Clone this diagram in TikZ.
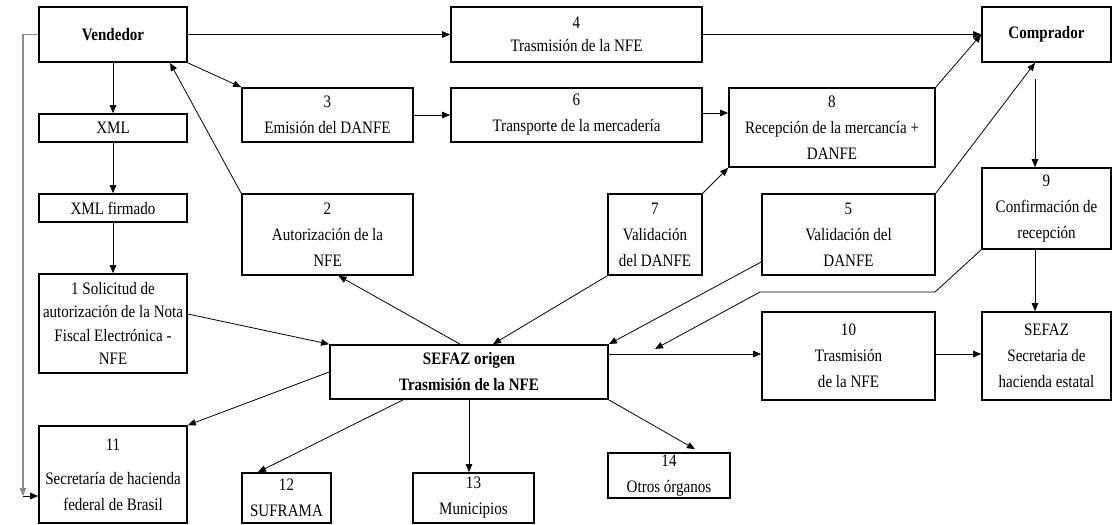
\documentclass[tikz,border=0pt]{standalone}
\usepackage{fontspec}
\setmainfont{Liberation Serif}[FakeStretch=0.86]
\usetikzlibrary{arrows.meta}
\begin{document}
\begin{tikzpicture}[x=1pt,y=-1pt,
  every node/.style={font=\fontsize{17.5}{26}\selectfont},
  box/.style={draw, line width=1.7pt, align=center, inner sep=0pt},
  arr/.style={line width=0.8pt, -{Triangle[length=8pt,width=6.5pt]}},
  link/.style={line width=0.8pt},
  feed/.style={line width=1.2pt, draw=black!45}]
\useasboundingbox (0,0) rectangle (1117,525);

% left column
\node[box, minimum width=148, minimum height=55] (vend) at (113,34.5) {\bfseries Vendedor};
\node[box, minimum width=148, minimum height=28] (xml) at (113,128) {XML};
\node[box, minimum width=148, minimum height=28] (xmlf) at (113,208) {XML firmado};
\node[box, minimum width=148, minimum height=99, font=\fontsize{17.5}{23.5}\selectfont] (sol) at (113,323.5)
  {1 Solicitud de\\autorización de la Nota\\Fiscal Electrónica -\\NFE};
\node[box, minimum width=148, minimum height=97] (n11) at (113,474.5)
  {11\\[8pt]Secretaría de hacienda\\federal de Brasil};

% upper rows
\node[box, minimum width=171, minimum height=54] (n3) at (327.5,115) {3\\Emisión del DANFE};
\node[box, minimum width=251, minimum height=55, font=\fontsize{17.5}{23}\selectfont] (n4) at (576.5,34.5) {4\\Trasmisión de la NFE};
\node[box, minimum width=251, minimum height=54] (n6) at (576.5,115) {6\\Transporte de la mercadería};
\node[box, minimum width=206, minimum height=79] (n8) at (832,127.5) {8\\Recepción de la mercancía +\\DANFE};
\node[box, minimum width=129, minimum height=55] (comp) at (1046.5,34.5) {\bfseries Comprador};

% middle row
\node[box, minimum width=171, minimum height=81] (n2) at (327.5,234.5) {2\\Autorización de la\\NFE};
\node[box, minimum width=94, minimum height=81] (n7) at (655,234.5) {7\\Validación\\del DANFE};
\node[box, minimum width=173, minimum height=81] (n5) at (848.5,234.5) {5\\Validación del\\DANFE};
\node[box, minimum width=129, minimum height=81] (n9) at (1046.5,208.5) {9\\Confirmación de\\recepción};

% SEFAZ row
\node[box, minimum width=278, minimum height=54] (sef) at (469,372) {\bfseries SEFAZ origen\\\bfseries Trasmisión de la NFE};
\node[box, minimum width=173, minimum height=88] (n10) at (848.5,356) {10\\Trasmisión\\de la NFE};
\node[box, minimum width=129, minimum height=88] (sef2) at (1046.5,356) {SEFAZ\\Secretaria de\\hacienda estatal};

% bottom row
\node[box, minimum width=89, minimum height=50] (n12) at (286.5,498) {12\\SUFRAMA};
\node[box, minimum width=121, minimum height=50] (n13) at (473.5,498) {13\\Municipios};
\node[box, minimum width=122, minimum height=45] (n14) at (669,475.5) {14\\Otros órganos};

% free ends
\coordinate (gl) at (23,496);
\coordinate (k1) at (935,292);
\coordinate (k2) at (760,292);
\coordinate (k3) at (655,349);

% connectors
\draw[arr] (vend) -- (n4);
\draw[arr] (n4) -- (comp);
\draw[arr] (vend.south east) -- (n3.north west);
\draw[arr] (n2.north west) -- ([xshift=57]vend.south);
\draw[arr] (vend.south) -- (xml.north);
\draw[arr] (xml.south) -- (xmlf.north);
\draw[arr] (xmlf.south) -- (sol.north);
\draw[arr] (n3.east) -- (n3.east -| n6.west);
\draw[arr] ([yshift=2]n6.east) -- ([yshift=2]n6.east -| n8.west);
\draw[arr] (n8.north east) -- (comp.west);
\draw[arr] (n5.north east) -- ([xshift=-11.5]comp.south);
\draw[arr] ([xshift=-11.5,yshift=-16]comp.south) -- ([xshift=-11.5]n9.north);
\draw[arr] ([xshift=-11.5]n9.south) -- ([xshift=-11.5]sef2.north);
\draw[arr] (n7.north east) -- (n8.south west);
\draw[arr] (n7.south west) -- ([xshift=24]sef.north);
\draw[arr] ([xshift=-9]sef.north) -- ([xshift=11]n2.south);
\draw[arr] ([yshift=-27.5]n5.west) -- (sef.north east);
\draw[link] (n9.south west) -- (k1) -- (k2);
\draw[arr] (k2) -- (k3);
\draw[arr] ([yshift=18]sef.east) -- ([yshift=18]sef.east -| n10.west);
\draw[arr] ([yshift=2]n10.east) -- ([yshift=2]sef2.west);
\draw[arr] ([yshift=9.5]sol.east) -- (sef.north west);
\draw[arr] (sef.west) -- (n11.north east);
\draw[arr] ([xshift=-66]sef.south) -- ([xshift=-28.5]n12.north);
\draw[arr] (sef.south) -- (sef.south |- n13.north);
\draw[arr] (sef.south east) -- ([xshift=26,yshift=3]n14.north);
\draw[feed, -{Triangle[length=8pt,width=6.5pt]}] (vend.west) -| (gl);
\draw[arr] (gl) -- (gl -| n11.west);
\end{tikzpicture}
\end{document}
